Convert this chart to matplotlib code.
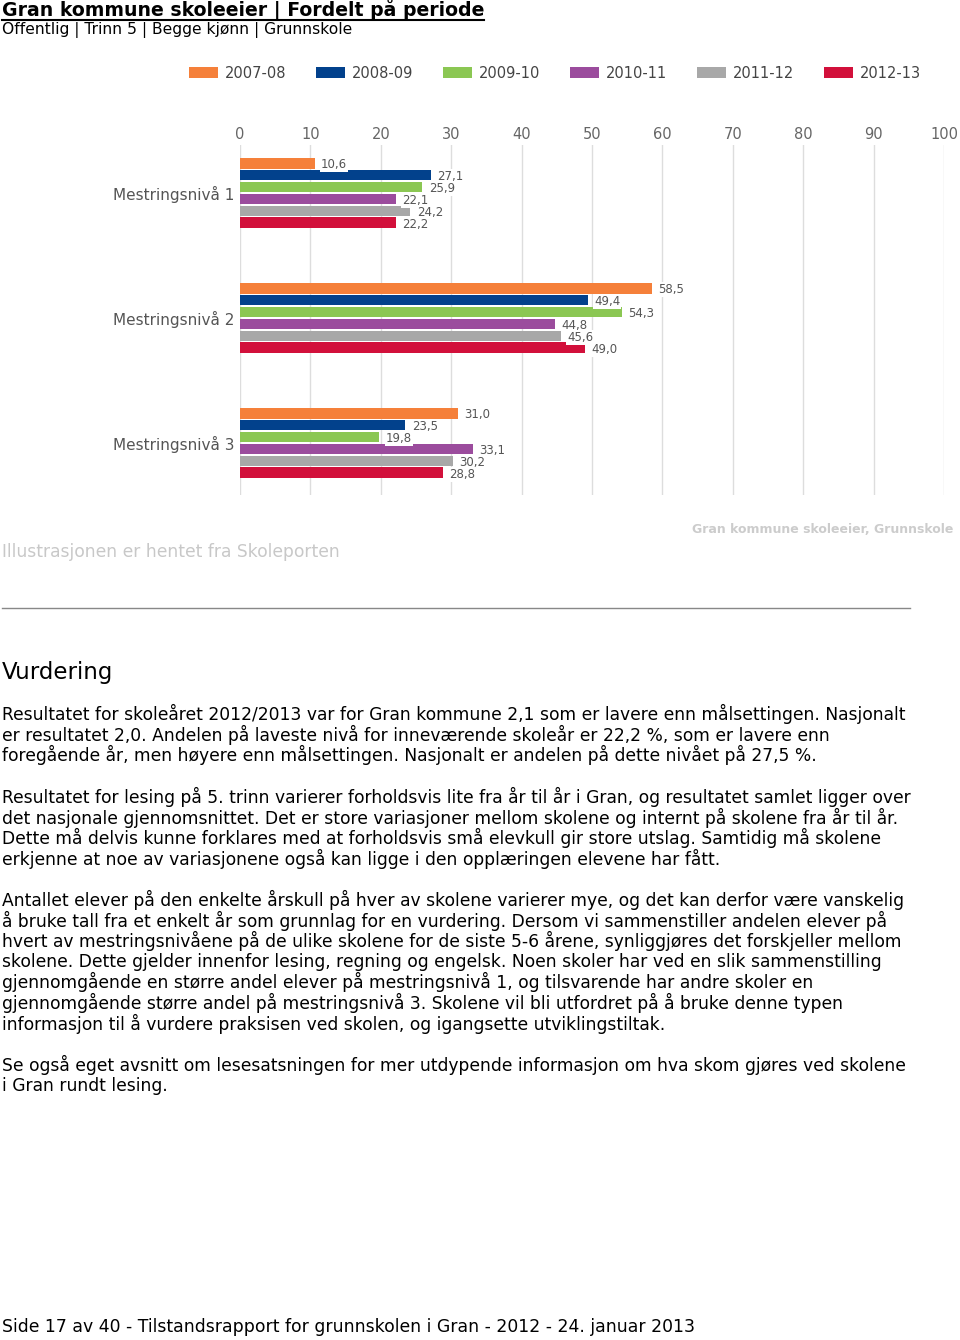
import numpy as np
import matplotlib
matplotlib.use("Agg")
import matplotlib.pyplot as plt

# --- data --------------------------------------------------------------
LEVELS = ["Mestringsnivå 1", "Mestringsnivå 2", "Mestringsnivå 3"]
PERIODS = ["2007-08", "2008-09", "2009-10", "2010-11", "2011-12", "2012-13"]
COLORS = ["#F5803A", "#02418C", "#8BC753", "#9B4C9D", "#A8A8A8", "#D2103B"]

v_2007 = [10.6, 58.5, 31.0]
v_2008 = [27.1, 49.4, 23.5]
v_2009 = [25.9, 54.3, 19.8]
v_2010 = [22.1, 44.8, 33.1]
v_2011 = [24.2, 45.6, 30.2]
v_2012 = [22.2, 49.0, 28.8]
VALUES = [v_2007, v_2008, v_2009, v_2010, v_2011, v_2012]

XTICKS = [0, 10, 20, 30, 40, 50, 60, 70, 80, 90, 100]

PARAGRAPHS = [
    ["Resultatet for skoleåret 2012/2013 var for Gran kommune 2,1 som er lavere enn målsettingen. Nasjonalt",
     "er resultatet 2,0. Andelen på laveste nivå for inneværende skoleår er 22,2 %, som er lavere enn",
     "foregående år, men høyere enn målsettingen. Nasjonalt er andelen på dette nivået på 27,5 %."],
    ["Resultatet for lesing på 5. trinn varierer forholdsvis lite fra år til år i Gran, og resultatet samlet ligger over",
     "det nasjonale gjennomsnittet. Det er store variasjoner mellom skolene og internt på skolene fra år til år.",
     "Dette må delvis kunne forklares med at forholdsvis små elevkull gir store utslag. Samtidig må skolene",
     "erkjenne at noe av variasjonene også kan ligge i den opplæringen elevene har fått."],
    ["Antallet elever på den enkelte årskull på hver av skolene varierer mye, og det kan derfor være vanskelig",
     "å bruke tall fra et enkelt år som grunnlag for en vurdering. Dersom vi sammenstiller andelen elever på",
     "hvert av mestringsnivåene på de ulike skolene for de siste 5-6 årene, synliggjøres det forskjeller mellom",
     "skolene. Dette gjelder innenfor lesing, regning og engelsk. Noen skoler har ved en slik sammenstilling",
     "gjennomgående en større andel elever på mestringsnivå 1, og tilsvarende har andre skoler en",
     "gjennomgående større andel på mestringsnivå 3. Skolene vil bli utfordret på å bruke denne typen",
     "informasjon til å vurdere praksisen ved skolen, og igangsette utviklingstiltak."],
    ["Se også eget avsnitt om lesesatsningen for mer utdypende informasjon om hva skom gjøres ved skolene",
     "i Gran rundt lesing."],
]
PARA_TOPS = [714, 797, 900, 1065]

W, H = 960, 1340


def fy(py):
    """pixel row -> figure fraction"""
    return 1 - py / H


fig = plt.figure(figsize=(W / 100, H / 100), dpi=100)
fig.patch.set_facecolor("white")

# header
fig.text(2 / W, fy(10), "Gran kommune skoleeier | Fordelt på periode",
         fontsize=13.6, fontweight="bold", color="black", va="center")
fig.text(2 / W, fy(30), "Offentlig | Trinn 5 | Begge kjønn | Grunnskole",
         fontsize=11.2, color="black", va="center")
fig.add_artist(plt.Line2D([2 / W, 484 / W], [fy(19.5), fy(19.5)], color="black", lw=1.5))

# chart
ax = fig.add_axes([240 / W, fy(495), 704 / W, 350 / H])
n = len(PERIODS)
step = 0.095
bar_h = 0.084
ypos = np.arange(len(LEVELS))
for k, (name, vals, col) in enumerate(zip(PERIODS, VALUES, COLORS)):
    y = ypos + (k - (n - 1) / 2) * step
    ax.barh(y, vals, height=bar_h, color=col, label=name, zorder=3)
    for yy, v in zip(y, vals):
        ax.text(v + 0.9, yy + 0.012, f"{v:.1f}".replace(".", ","), fontsize=8.5,
                color="#555555", va="center", ha="left", zorder=4,
                bbox=dict(boxstyle="square,pad=0.08", fc="white", ec="none"))

ax.set_xlim(0, 100)
ax.set_ylim(2.416, -0.384)
ax.set_xticks(XTICKS)
ax.xaxis.tick_top()
ax.tick_params(axis="x", length=0, pad=2, labelsize=10.5, labelcolor="#666666")
ax.set_yticks(ypos)
ax.set_yticklabels(LEVELS)
ax.tick_params(axis="y", length=0, pad=4, labelsize=11, labelcolor="#555555")
ax.grid(axis="x", color="#DDDDDD", lw=1, zorder=0)
for s in ax.spines.values():
    s.set_visible(False)

fig.legend(loc="center left", bbox_to_anchor=(189 / W, fy(73)), ncol=6,
           frameon=False, fontsize=10.5, handlelength=2.0, handleheight=0.8,
           handletextpad=0.45, columnspacing=2.05, labelcolor="#444444",
           borderaxespad=0, borderpad=0)

fig.text(953 / W, fy(530), "Gran kommune skoleeier, Grunnskole", fontsize=9.0,
         color="#CCCCCC", ha="right", va="center", fontweight="bold")
fig.text(2 / W, fy(552), "Illustrasjonen er hentet fra Skoleporten", fontsize=12.3,
         color="#C8C8C8", va="center")
fig.add_artist(plt.Line2D([2 / W, 910 / W], [fy(608), fy(608)], color="#888888", lw=1))

# text section
fig.text(2 / W, fy(672), "Vurdering", fontsize=16.5, color="black", va="center")
LINE = 20.6
for top, lines in zip(PARA_TOPS, PARAGRAPHS):
    for i, line in enumerate(lines):
        fig.text(2 / W, fy(top + i * LINE), line, fontsize=12.33, color="black",
                 va="center")

fig.text(2 / W, fy(1327),
         "Side 17 av 40 - Tilstandsrapport for grunnskolen i Gran - 2012 - 24. januar 2013",
         fontsize=12.45, color="black", va="center")

fig.savefig("out.png", dpi=100)
